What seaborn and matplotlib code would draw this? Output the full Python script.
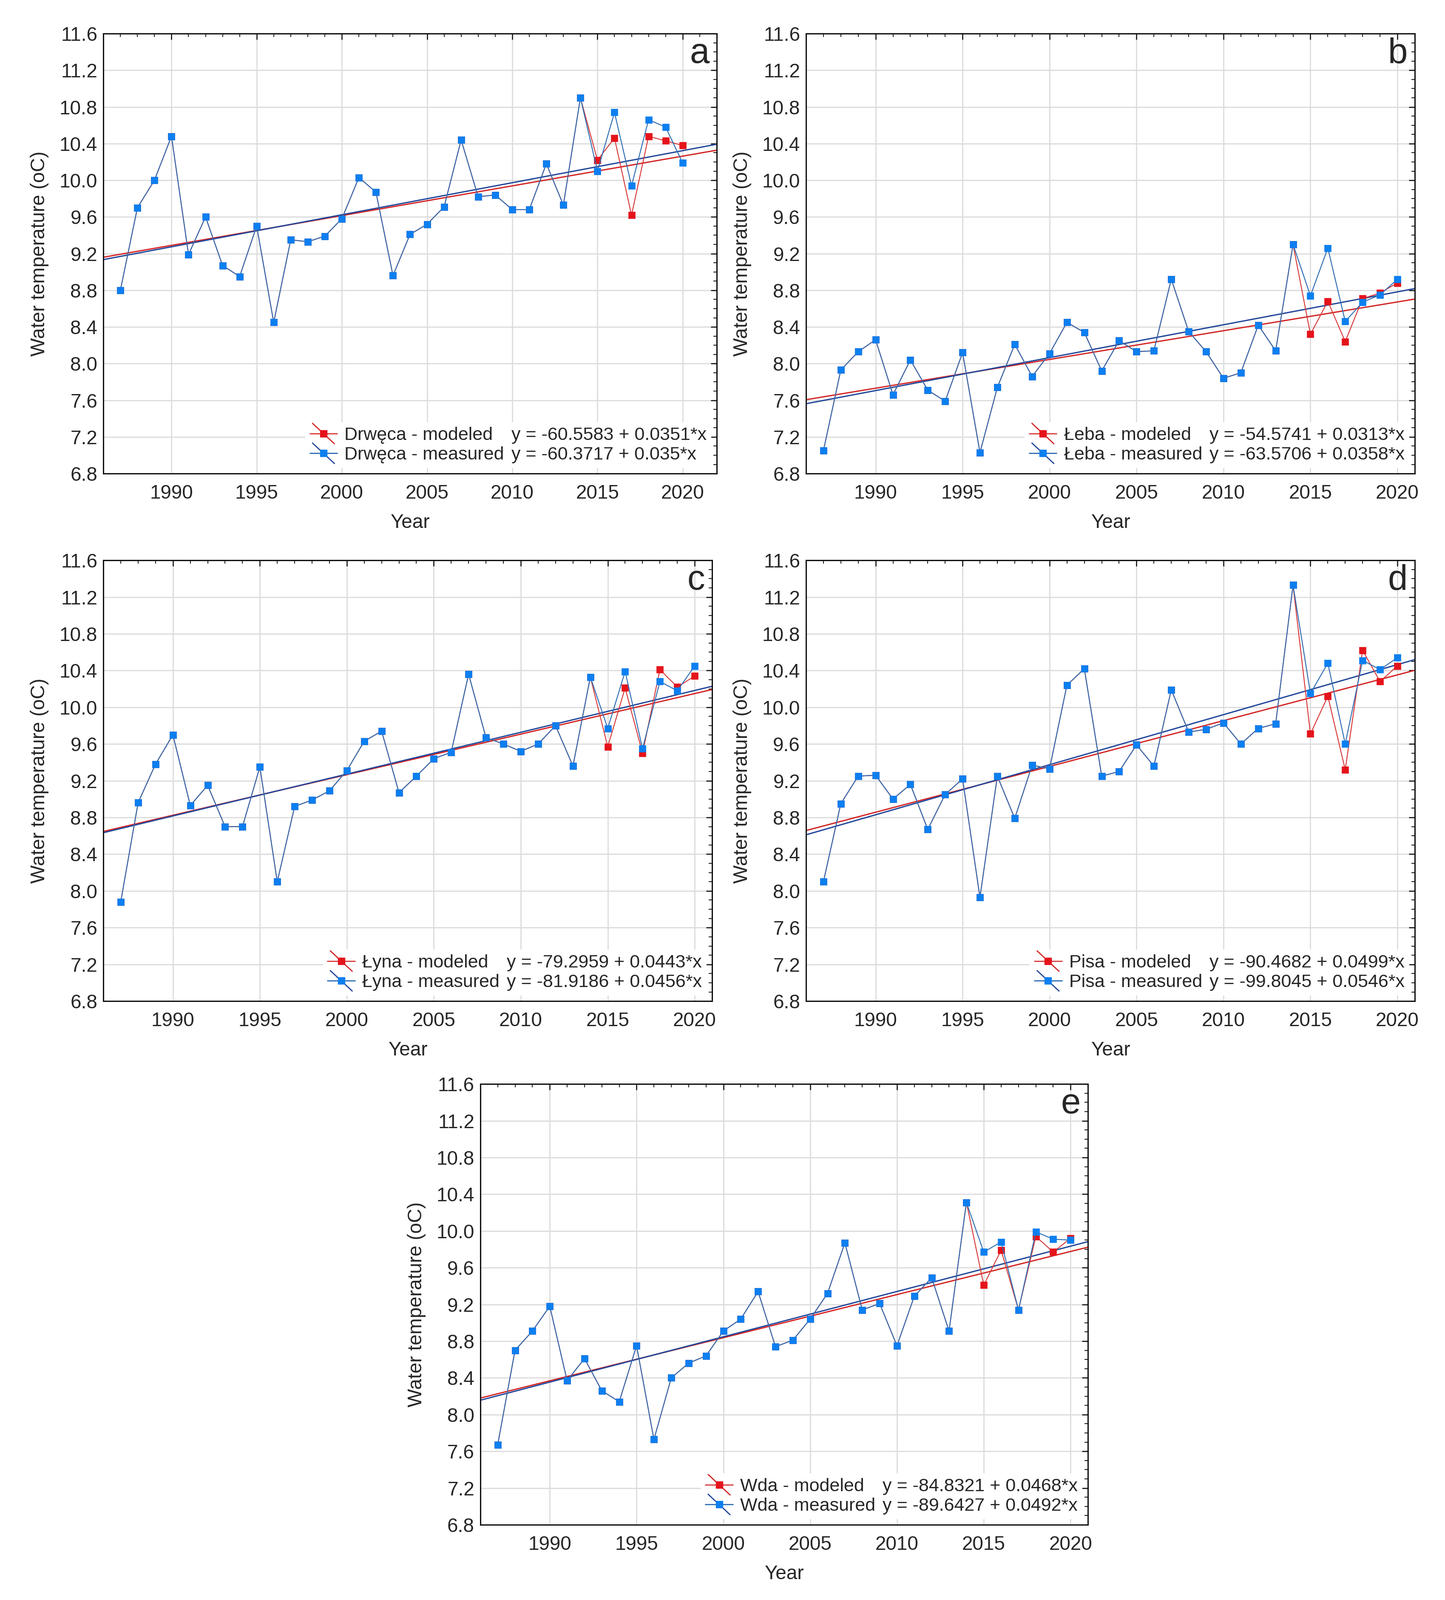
import numpy as np
import pandas as pd
import matplotlib.pyplot as plt
import seaborn as sns
from matplotlib.lines import Line2D
from matplotlib.legend_handler import HandlerBase
from matplotlib.ticker import MultipleLocator

# data
years = list(range(1987, 2021))
model_years_start = 2015

rivers = ['Drwęca', 'Łeba', 'Łyna', 'Pisa', 'Wda']
letters = ['a', 'b', 'c', 'd', 'e']

drweca_measured = [8.80, 9.70, 10.00, 10.48, 9.19, 9.60, 9.07, 8.95, 9.50, 8.45,
                   9.35, 9.33, 9.39, 9.58, 10.03, 9.87, 8.96, 9.41, 9.52, 9.71,
                   10.44, 9.82, 9.84, 9.68, 9.68, 10.18, 9.73, 10.90, 10.10, 10.74,
                   9.94, 10.66, 10.58, 10.19]
leba_measured = [7.05, 7.93, 8.13, 8.26, 7.66, 8.04, 7.71, 7.59, 8.12, 7.03,
                 7.74, 8.21, 7.86, 8.11, 8.45, 8.34, 7.92, 8.25, 8.13, 8.14,
                 8.92, 8.35, 8.13, 7.84, 7.90, 8.42, 8.14, 9.30, 8.74, 9.26,
                 8.46, 8.67, 8.75, 8.92]
lyna_measured = [7.88, 8.96, 9.38, 9.70, 8.93, 9.15, 8.70, 8.70, 9.35, 8.10,
                 8.92, 8.99, 9.09, 9.31, 9.63, 9.74, 9.07, 9.25, 9.44, 9.51,
                 10.36, 9.67, 9.60, 9.52, 9.60, 9.80, 9.36, 10.33, 9.77, 10.39,
                 9.55, 10.28, 10.18, 10.45]
pisa_measured = [8.10, 8.95, 9.25, 9.26, 9.00, 9.16, 8.67, 9.05, 9.22, 7.93,
                 9.25, 8.79, 9.37, 9.33, 10.24, 10.42, 9.25, 9.30, 9.59, 9.36,
                 10.19, 9.73, 9.76, 9.83, 9.60, 9.77, 9.82, 11.33, 10.15, 10.48,
                 9.60, 10.51, 10.41, 10.54]
wda_measured = [7.67, 8.70, 8.91, 9.18, 8.37, 8.61, 8.26, 8.14, 8.75, 7.73,
                8.40, 8.56, 8.64, 8.91, 9.04, 9.34, 8.74, 8.81, 9.04, 9.32,
                9.87, 9.14, 9.21, 8.75, 9.29, 9.49, 8.91, 10.31, 9.77, 9.88,
                9.14, 9.99, 9.91, 9.90]

# modeled values 2015-2020 (earlier years equal the measured ones)
drweca_modeled = [10.22, 10.46, 9.62, 10.48, 10.43, 10.38]
leba_modeled = [8.32, 8.68, 8.24, 8.71, 8.77, 8.88]
lyna_modeled = [9.57, 10.21, 9.50, 10.41, 10.22, 10.34]
pisa_modeled = [9.71, 10.12, 9.32, 10.62, 10.28, 10.45]
wda_modeled = [9.41, 9.79, 9.14, 9.94, 9.77, 9.92]

measured_all = [drweca_measured, leba_measured, lyna_measured, pisa_measured, wda_measured]
modeled_all = [drweca_modeled, leba_modeled, lyna_modeled, pisa_modeled, wda_modeled]

# regression equations printed in the legends
mod_intercept = [-60.5583, -54.5741, -79.2959, -90.4682, -84.8321]
mod_slope = [0.0351, 0.0313, 0.0443, 0.0499, 0.0468]
meas_intercept = [-60.3717, -63.5706, -81.9186, -99.8045, -89.6427]
meas_slope = [0.035, 0.0358, 0.0456, 0.0546, 0.0492]

x_right = [2022, 2021, 2021, 2021, 2021]

# colours
red_line = '#d83a3a'
red_mark = '#e5141b'
red_trend = '#d42626'
blue_line = '#2f6db3'
blue_mark = '#0c7ff0'
blue_trend = '#22479a'

sns.set_style("white")
plt.rcParams['font.family'] = ['Liberation Sans', 'DejaVu Sans']

FS = 33


class SeriesKey:
    def __init__(self, line, mark, trend):
        self.line, self.mark, self.trend = line, mark, trend


class SeriesHandler(HandlerBase):
    # line + square marker, crossed by a diagonal trend line
    def create_artists(self, legend, orig_handle, xdescent, ydescent,
                       width, height, fontsize, trans):
        x0, x1 = -xdescent, width - xdescent
        y = height / 2 - ydescent
        h = Line2D([x0, x1], [y, y], color=orig_handle.line, lw=2)
        d = Line2D([x0 + width * 0.1, x1 - width * 0.1],
                   [y + height * 0.8, y - height * 0.8], color=orig_handle.trend, lw=2)
        m = Line2D([(x0 + x1) / 2], [y], marker='s', markersize=11,
                   color=orig_handle.mark, lw=0)
        for a in (h, d, m):
            a.set_transform(trans)
        return [h, d, m]


class Blank:
    pass


class BlankHandler(HandlerBase):
    def create_artists(self, legend, orig_handle, xdescent, ydescent,
                       width, height, fontsize, trans):
        e = Line2D([], [], lw=0)
        e.set_transform(trans)
        return [e]


# axes positions (figure fraction)
positions = [
    [0.0715, 0.7040, 0.4245, 0.2750],
    [0.5578, 0.7040, 0.4213, 0.2750],
    [0.0715, 0.3743, 0.4213, 0.2755],
    [0.5578, 0.3743, 0.4213, 0.2755],
    [0.3324, 0.0470, 0.4205, 0.2755],
]

fig = plt.figure(figsize=(33.99, 37.64), dpi=100)

for i in range(5):
    ax = fig.add_axes(positions[i])
    measured = measured_all[i]
    n_obs = years.index(model_years_start)
    modeled = measured[:n_obs] + modeled_all[i]

    df = pd.DataFrame({'Year': years, 'measured': measured, 'modeled': modeled})

    ax.set_xlim(1986, x_right[i])
    ax.set_ylim(6.8, 11.6)

    # linear trends over the whole x range
    sns.regplot(data=df, x='Year', y='modeled', ax=ax, scatter=False, ci=None,
                truncate=False, line_kws=dict(color=red_trend, lw=2.2, zorder=2))
    sns.regplot(data=df, x='Year', y='measured', ax=ax, scatter=False, ci=None,
                truncate=False, line_kws=dict(color=blue_trend, lw=2.2, zorder=2.1))

    sns.lineplot(data=df, x='Year', y='modeled', ax=ax, color=red_line, lw=1.6,
                 marker='s', markersize=11, markerfacecolor=red_mark,
                 markeredgecolor=red_mark, markeredgewidth=0.5, zorder=2.2)
    sns.lineplot(data=df, x='Year', y='measured', ax=ax, color=blue_line, lw=1.6,
                 marker='s', markersize=11, markerfacecolor=blue_mark,
                 markeredgecolor=blue_mark, markeredgewidth=0.5, zorder=2.3)

    ax.set_xlim(1986, x_right[i])
    ax.set_ylim(6.8, 11.6)
    ax.xaxis.set_major_locator(MultipleLocator(5))
    ax.xaxis.set_minor_locator(MultipleLocator(1))
    ax.yaxis.set_major_locator(MultipleLocator(0.4))
    ax.yaxis.set_minor_locator(MultipleLocator(0.1))
    ax.yaxis.set_major_formatter(plt.FormatStrFormatter('%.1f'))

    ax.grid(True, which='major', color='#dcdcdc', lw=2)
    ax.set_axisbelow(True)
    ax.tick_params(which='both', direction='in', top=True, right=True,
                   labelsize=FS, color='#222222')
    ax.tick_params(which='major', length=10, width=2)
    ax.tick_params(which='minor', length=6, width=1.5)
    ax.tick_params(axis='x', pad=18)
    ax.tick_params(axis='y', pad=10)
    for s in ax.spines.values():
        s.set_color('#111111')
        s.set_linewidth(2.2)

    ax.set_xlabel('Year', fontsize=FS, labelpad=18)
    ax.set_ylabel('Water temperature (oC)', fontsize=FS, labelpad=18)

    ax.text(0.988, 0.992, letters[i], transform=ax.transAxes, ha='right', va='top',
            fontsize=60)

    handles = [SeriesKey(red_line, red_mark, red_trend),
               SeriesKey(blue_line, blue_mark, blue_trend),
               Blank(), Blank()]
    labels = [f'{rivers[i]} - modeled', f'{rivers[i]} - measured',
              f'y = {mod_intercept[i]:g} + {mod_slope[i]:g}*x',
              f'y = {meas_intercept[i]:g} + {meas_slope[i]:g}*x']
    leg = ax.legend(handles, labels, ncol=2, loc='lower right', fontsize=31,
                    handler_map={SeriesKey: SeriesHandler(), Blank: BlankHandler()},
                    handlelength=1.5, handletextpad=0.4, columnspacing=-1.5,
                    labelspacing=0.15, borderpad=0.25, borderaxespad=0.3,
                    frameon=True, fancybox=False, framealpha=1, edgecolor='none')
    leg.set_zorder(5)

plt.savefig('out.png', dpi=100)
